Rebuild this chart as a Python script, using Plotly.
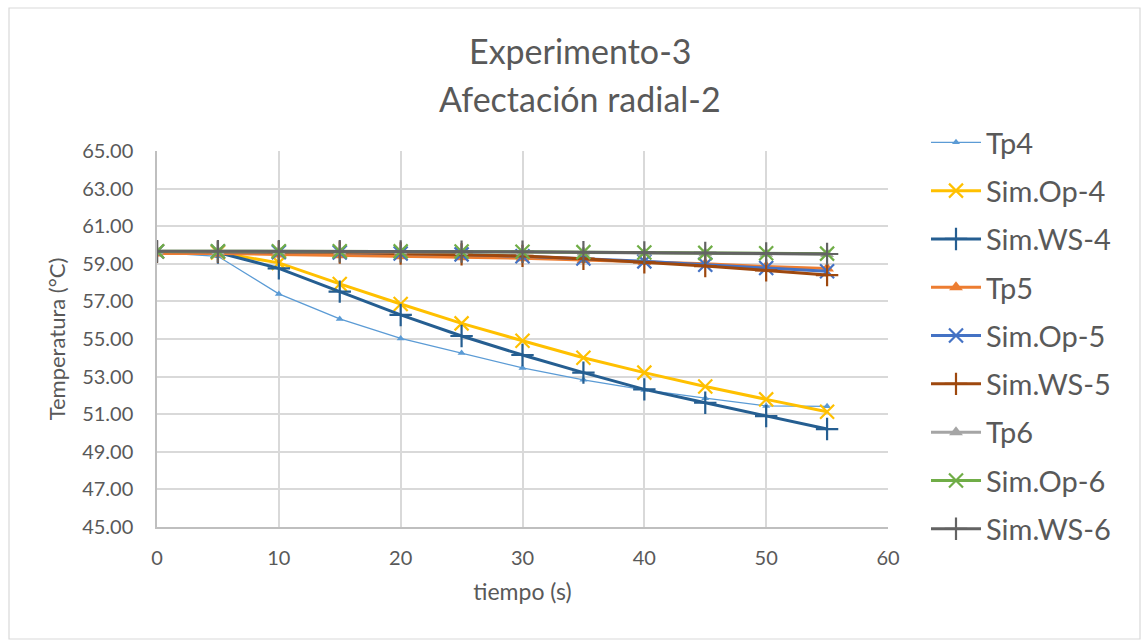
import plotly.graph_objects as go

tiempo = [0, 5, 10, 15, 20, 25, 30, 35, 40, 45, 50, 55]

tp4 = [59.6, 59.4, 57.4, 56.07, 55.03, 54.25, 53.46, 52.83, 52.29, 51.85, 51.44, 51.42]
sim_op_4 = [59.65, 59.6, 59.05, 57.93, 56.86, 55.83, 54.91, 54.0, 53.21, 52.47, 51.79, 51.13]
sim_ws_4 = [59.65, 59.6, 58.76, 57.52, 56.28, 55.16, 54.15, 53.21, 52.32, 51.61, 50.9, 50.21]

tp5 = [59.55, 59.55, 59.5, 59.45, 59.4, 59.35, 59.3, 59.2, 59.1, 59.0, 58.85, 58.75]
sim_op_5 = [59.65, 59.65, 59.62, 59.6, 59.55, 59.5, 59.4, 59.28, 59.13, 58.95, 58.78, 58.6]
sim_ws_5 = [59.65, 59.65, 59.62, 59.6, 59.55, 59.5, 59.42, 59.27, 59.08, 58.88, 58.65, 58.4]

tp6 = [59.65, 59.65, 59.65, 59.65, 59.65, 59.63, 59.62, 59.6, 59.58, 59.56, 59.54, 59.52]
sim_op_6 = [59.67, 59.67, 59.67, 59.67, 59.66, 59.65, 59.64, 59.62, 59.6, 59.58, 59.56, 59.54]
sim_ws_6 = [59.67, 59.67, 59.67, 59.67, 59.66, 59.65, 59.64, 59.62, 59.6, 59.58, 59.55, 59.52]

series = [
    ("Tp4", tp4, "#5B9BD5", 1.3, "triangle-up", 7, None),
    ("Sim.Op-4", sim_op_4, "#FFC000", 3, "x-thin-open", 14, 2.2),
    ("Sim.WS-4", sim_ws_4, "#255E91", 3, "cross-thin-open", 16, 2.2),
    ("Tp5", tp5, "#ED7D31", 3, "triangle-up", 12, None),
    ("Sim.Op-5", sim_op_5, "#4472C4", 3, "x-thin-open", 14, 2.2),
    ("Sim.WS-5", sim_ws_5, "#9E480E", 3, "cross-thin-open", 16, 2.2),
    ("Tp6", tp6, "#A5A5A5", 3, "triangle-up", 12, None),
    ("Sim.Op-6", sim_op_6, "#70AD47", 3, "x-thin-open", 14, 2.2),
    ("Sim.WS-6", sim_ws_6, "#636363", 3, "cross-thin-open", 16, 2.2),
]

fig = go.Figure()
for i, (name, vals, color, lw, sym, ms, mlw) in enumerate(series):
    marker = dict(symbol=sym, size=ms, color=color)
    if mlw is not None:
        marker["line"] = dict(color=color, width=mlw)
    fig.add_trace(go.Scatter(
        x=tiempo, y=vals, name=name, mode="lines+markers",
        line=dict(color=color, width=lw), marker=marker,
        legendgroup=f"g{i}",
    ))

W, H = 1143, 641
L, R, T, B = 157, 888, 151, 527
TXT = "#595959"

fig.update_layout(
    width=W, height=H, autosize=False,
    margin=dict(l=L, r=W - R, t=T, b=H - B),
    paper_bgcolor="white", plot_bgcolor="white",
    font=dict(family="Lato, Open Sans, sans-serif", color=TXT),
    showlegend=True,
    legend=dict(
        xref="container", yref="container",
        x=926 / W, y=1 - 117 / H, xanchor="left", yanchor="top",
        font=dict(size=29, color=TXT),
        tracegroupgap=7.6, itemwidth=50, maxheight=620,
        traceorder="grouped",
        bgcolor="rgba(0,0,0,0)",
    ),
    annotations=[
        dict(text="Experimento-3", xref="paper", yref="paper",
             x=(580 - L) / (R - L), y=(B - 50) / (B - T),
             showarrow=False, font=dict(size=34, color=TXT),
             xanchor="center", yanchor="middle"),
        dict(text="Afectación radial-2", xref="paper", yref="paper",
             x=(580 - L) / (R - L), y=(B - 99) / (B - T),
             showarrow=False, font=dict(size=34, color=TXT),
             xanchor="center", yanchor="middle"),
    ],
    shapes=[
        dict(type="rect", xref="paper", yref="paper",
             x0=(9 - L) / (R - L), x1=(1140 - L) / (R - L),
             y0=(B - 639) / (B - T), y1=(B - 8) / (B - T),
             line=dict(color="#D9D9D9", width=1.2), layer="below"),
    ],
)

fig.update_xaxes(
    range=[0, 60], dtick=10, tick0=0,
    showgrid=True, gridcolor="#D9D9D9", gridwidth=1.5,
    zeroline=False, showline=True, linecolor="#BFBFBF", linewidth=1.5,
    ticks="", ticklabelstandoff=12,
    tickfont=dict(size=20, color=TXT),
    title=dict(text="tiempo (s)", font=dict(size=23, color=TXT), standoff=16),
)
fig.update_yaxes(
    range=[45, 65], dtick=2, tick0=45, tickformat=".2f",
    showgrid=True, gridcolor="#D9D9D9", gridwidth=1.5,
    zeroline=False, showline=True, linecolor="#BFBFBF", linewidth=1.5,
    ticks="", ticklabelstandoff=18,
    tickfont=dict(size=20, color=TXT),
    title=dict(text="Temperatura (°C)", font=dict(size=22, color=TXT), standoff=10),
)

fig.write_html("out.html", config={"displayModeBar": False},
               post_script="document.body.style.margin='0px';")
